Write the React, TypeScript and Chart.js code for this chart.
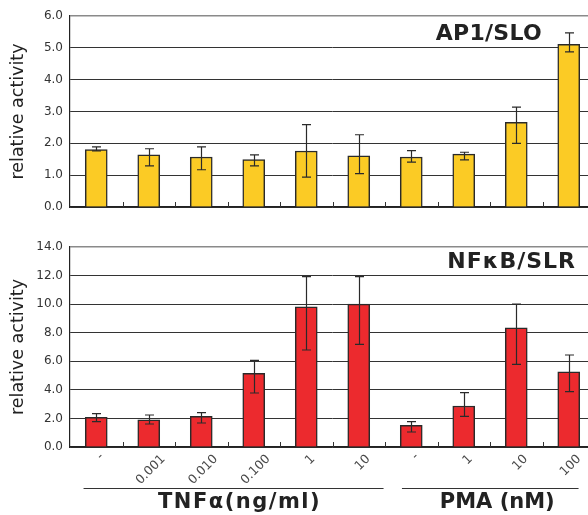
import React, { useEffect, useRef } from "react";
import { Chart, registerables } from "chart.js";

Chart.register(...registerables);

// ---- data ----
const categories = ["-", "0.001", "0.010", "0.100", "1", "10", "-", "1", "10", "100"];

const ap1Values = [1.8, 1.64, 1.57, 1.49, 1.76, 1.61, 1.57, 1.66, 2.66, 5.11];
const ap1Low = [1.76, 1.29, 1.17, 1.29, 0.94, 1.05, 1.41, 1.48, 2.0, 4.87];
const ap1High = [1.89, 1.83, 1.89, 1.64, 2.59, 2.27, 1.77, 1.72, 3.14, 5.47];

const nfkbValues = [2.08, 1.91, 2.15, 5.16, 9.82, 10.0, 1.52, 2.87, 8.35, 5.27];
const nfkbLow = [1.77, 1.61, 1.68, 3.78, 6.79, 7.19, 1.05, 2.15, 5.79, 3.87];
const nfkbHigh = [2.33, 2.24, 2.4, 6.07, 11.92, 11.92, 1.77, 3.8, 10.0, 6.44];

const ap1Max = 6;
const ap1Step = 1;
const nfkbMax = 14;
const nfkbStep = 2;

const ap1Title = "AP1/SLO";
const nfkbTitle = "NFκB/SLR";
const yTitle = "relative activity";

const groupLabels = ["TNFα(ng/ml)", "PMA (nM)"];
const groupFirst = [0, 6];
const groupLast = [5, 9];

// ---- style ----
const FONT = "'DejaVu Sans', sans-serif";
const YELLOW = "#FBCB25";
const RED = "#EC2A2E";
const INK = "#2a2a2a";

const errorBars = (low: number[], high: number[]) => ({
  id: "errorBars",
  afterDatasetsDraw(chart: any) {
    const meta = chart.getDatasetMeta(0);
    const y = chart.scales.y;
    const ctx = chart.ctx;
    ctx.save();
    ctx.strokeStyle = INK;
    ctx.lineWidth = 1.2;
    meta.data.forEach((bar: any, i: number) => {
      const x = Math.round(bar.x) + 0.5;
      const y1 = y.getPixelForValue(low[i]);
      const y2 = y.getPixelForValue(high[i]);
      ctx.beginPath();
      ctx.moveTo(x, y1);
      ctx.lineTo(x, y2);
      ctx.moveTo(x - 4.5, y1);
      ctx.lineTo(x + 4.5, y1);
      ctx.moveTo(x - 4.5, y2);
      ctx.lineTo(x + 4.5, y2);
      ctx.stroke();
    });
    ctx.restore();
  },
});

const innerTicks = {
  id: "innerTicks",
  afterDraw(chart: any) {
    const { ctx, chartArea } = chart;
    const n = categories.length;
    const cw = (chartArea.right - chartArea.left) / n;
    ctx.save();
    ctx.strokeStyle = "#333";
    ctx.lineWidth = 1;
    for (let k = 1; k < n; k++) {
      const x = Math.round(chartArea.left + k * cw) + 0.5;
      ctx.beginPath();
      ctx.moveTo(x, chartArea.bottom);
      ctx.lineTo(x, chartArea.bottom - 5);
      ctx.stroke();
    }
    ctx.restore();
  },
};

const panelTitle = (text: string, dxRight: number, dy: number, spacing: number) => ({
  id: "panelTitle",
  afterDraw(chart: any) {
    const { ctx, chartArea } = chart;
    ctx.save();
    ctx.font = `bold 22px ${FONT}`;
    (ctx as any).letterSpacing = `${spacing}px`;
    ctx.fillStyle = "#222";
    ctx.textAlign = "right";
    ctx.textBaseline = "middle";
    ctx.fillText(text, chartArea.right - dxRight, chartArea.top + dy);
    ctx.restore();
  },
});

// rotated category labels, each centred below its bar
const xLabels = {
  id: "xLabels",
  afterDraw(chart: any) {
    const { ctx, chartArea } = chart;
    const x = chart.scales.x;
    const labels: string[] = chart.data.labels;
    ctx.save();
    ctx.font = `12.5px ${FONT}`;
    ctx.fillStyle = "#4a4a4a";
    ctx.textAlign = "center";
    ctx.textBaseline = "middle";
    labels.forEach((lab, i) => {
      const w = ctx.measureText(lab).width;
      const h = lab === "-" ? 2 : 9;
      const bb = (w + h) * Math.SQRT1_2;
      const cx = x.getPixelForValue(i) + 2 + (lab.length < 3 ? 2 : 0);
      const cy = chartArea.bottom + 7 + bb / 2;
      ctx.save();
      ctx.translate(cx, cy);
      ctx.rotate(-Math.PI / 4);
      ctx.fillText(lab, 0, 0);
      ctx.restore();
    });
    ctx.restore();
  },
};

const groupPlugin = {
  id: "groups",
  afterDraw(chart: any) {
    const { ctx, chartArea } = chart;
    const x = chart.scales.x;
    const offs = [
      { s: -12.7, e: 24.8, t: 6, sp: 1.5 },
      { s: -9.3, e: 9.8, t: 7, sp: 0 },
    ];
    ctx.save();
    groupLabels.forEach((label, g) => {
      const x1 = x.getPixelForValue(groupFirst[g]) + offs[g].s;
      const x2 = x.getPixelForValue(groupLast[g]) + offs[g].e;
      const ly = Math.round(chartArea.bottom + 41) + 0.5;
      ctx.strokeStyle = "#333";
      ctx.lineWidth = 1.2;
      ctx.beginPath();
      ctx.moveTo(x1, ly);
      ctx.lineTo(x2, ly);
      ctx.stroke();
      ctx.font = `bold 21px ${FONT}`;
      (ctx as any).letterSpacing = `${offs[g].sp}px`;
      ctx.fillStyle = "#222";
      ctx.textAlign = "center";
      ctx.textBaseline = "middle";
      ctx.fillText(label, (x1 + x2) / 2 + offs[g].t, chartArea.bottom + 56);
    });
    ctx.restore();
  },
};

function makeConfig(
  values: number[],
  low: number[],
  high: number[],
  color: string,
  max: number,
  step: number,
  padTop: number,
  xHeight: number,
  extra: any[]
): any {
  return {
    type: "bar",
    data: {
      labels: categories,
      datasets: [
        {
          data: values,
          backgroundColor: color,
          borderColor: INK,
          borderWidth: 1.5,
          barThickness: 22,
        },
      ],
    },
    options: {
      responsive: false,
      animation: false,
      layout: { padding: { top: padTop, right: 15, left: 0, bottom: 0 } },
      plugins: { legend: { display: false }, tooltip: { enabled: false } },
      scales: {
        x: {
          grid: { display: false },
          border: { display: true, color: "#222", width: 1.5 },
          ticks: { display: false },
          afterFit: (s: any) => {
            s.height = xHeight;
            s.paddingLeft = 0;
            s.paddingRight = 0;
          },
        },
        y: {
          min: 0,
          max: max,
          ticks: {
            stepSize: step,
            callback: (v: any) => Number(v).toFixed(1),
            font: { family: FONT, size: 12 },
            color: "#333",
            padding: 7,
          },
          grid: {
            drawTicks: false,
            color: (c: any) => (c.tick && c.tick.value === max ? "#8a8a8a" : "#333"),
            lineWidth: (c: any) => (c.tick && c.tick.value === max ? 1.6 : 1),
          },
          border: { display: true, color: "#222", width: 1.2 },
          title: {
            display: true,
            text: yTitle,
            font: { family: FONT, size: 17.5 },
            color: "#222",
            padding: { top: 8, bottom: 0 },
          },
          afterFit: (s: any) => {
            s.width = 70;
          },
        },
      },
    },
    plugins: [errorBars(low, high), innerTicks, ...extra],
  };
}

export default function App() {
  const topRef = useRef<HTMLCanvasElement>(null);
  const botRef = useRef<HTMLCanvasElement>(null);

  useEffect(() => {
    const c1 = new Chart(
      topRef.current as HTMLCanvasElement,
      makeConfig(ap1Values, ap1Low, ap1High, YELLOW, ap1Max, ap1Step, 16, 18, [
        panelTitle(ap1Title, 53, 18, 0.3),
      ])
    );
    const c2 = new Chart(
      botRef.current as HTMLCanvasElement,
      makeConfig(nfkbValues, nfkbLow, nfkbHigh, RED, nfkbMax, nfkbStep, 22, 68, [
        panelTitle(nfkbTitle, 19, 15, 1),
        xLabels,
        groupPlugin,
      ])
    );
    return () => {
      c1.destroy();
      c2.destroy();
    };
  }, []);

  return (
    <div
      style={{
        position: "fixed",
        left: 0,
        top: 0,
        width: 588,
        height: 515,
        overflow: "hidden",
        background: "#fff",
      }}
    >
      <canvas
        ref={topRef}
        width={610}
        height={225}
        style={{ position: "absolute", left: 0, top: 0, width: 610, height: 225 }}
      />
      <canvas
        ref={botRef}
        width={610}
        height={290}
        style={{ position: "absolute", left: 0, top: 225, width: 610, height: 290 }}
      />
    </div>
  );
}
